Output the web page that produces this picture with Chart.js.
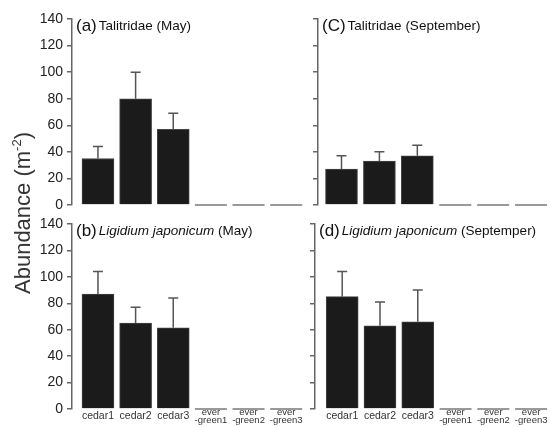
<!DOCTYPE html>
<html><head><meta charset="utf-8">
<script src="https://cdn.jsdelivr.net/npm/chart.js@4.4.1/dist/chart.umd.min.js"></script>
<style>
html,body{margin:0;padding:0;background:#fff;}
#wrap{position:relative;width:550px;height:427px;overflow:hidden;font-family:"Liberation Sans",Arial,sans-serif;}
canvas{position:absolute;}
#ytitle{position:absolute;left:23px;top:213px;transform:translate(-50%,-50%) rotate(-90deg);white-space:nowrap;font-size:22px;color:#333;}
#ytitle sup{font-size:13px;vertical-align:9px;line-height:0;}
</style></head><body>
<div id="wrap">
<canvas id="ca" style="left:0;top:0" width="305" height="218"></canvas>
<canvas id="cc" style="left:270px;top:0" width="280" height="218"></canvas>
<canvas id="cb" style="left:0;top:210px" width="305" height="217"></canvas>
<canvas id="cd" style="left:270px;top:210px" width="280" height="217"></canvas>
<div id="ytitle">Abundance (m<sup>-2</sup>)</div>
</div>
<script>
// ---- data ----
const categoryLabels = [['cedar1'], ['cedar2'], ['cedar3'], ['ever', '-green1'], ['ever', '-green2'], ['ever', '-green3']];
const yTickValues = [0, 20, 40, 60, 80, 100, 120, 140];

const talitridaeMay = [35, 80, 57, 0, 0, 0];
const talitridaeMaySE = [9, 20, 12, 0, 0, 0];
const talitridaeSep = [27, 33, 37, 0, 0, 0];
const talitridaeSepSE = [10, 7, 8, 0, 0, 0];
const ligidiumMay = [87, 65, 61.5, 0, 0, 0];
const ligidiumMaySE = [17, 12, 22.5, 0, 0, 0];
const ligidiumSep = [85, 63, 66, 0, 0, 0];
const ligidiumSepSE = [19, 18, 24, 0, 0, 0];

const FAMILY = '"Liberation Sans", Arial, sans-serif';
const AXIS_COLOR = '#666';

const whiskerPlugin = {
  id: 'whiskers',
  afterDatasetsDraw(chart) {
    const ctx = chart.ctx;
    const y = chart.scales.y;
    const ds = chart.data.datasets[0];
    const meta = chart.getDatasetMeta(0);
    ctx.save();
    meta.data.forEach((bar, i) => {
      const p = bar.getProps(['x', 'y', 'width'], true);
      const v = ds.data[i].y;
      const se = ds.se[i];
      if (v === 0) {
        const y0 = y.getPixelForValue(0);
        ctx.strokeStyle = '#777';
        ctx.lineWidth = 1.6;
        ctx.beginPath();
        ctx.moveTo(p.x - p.width / 2, y0);
        ctx.lineTo(p.x + p.width / 2, y0);
        ctx.stroke();
      } else if (se > 0) {
        const yt = y.getPixelForValue(v + se);
        ctx.strokeStyle = '#555';
        ctx.lineWidth = 1.5;
        ctx.beginPath();
        ctx.moveTo(p.x, p.y);
        ctx.lineTo(p.x, yt);
        ctx.moveTo(p.x - 5, yt);
        ctx.lineTo(p.x + 5, yt);
        ctx.stroke();
      }
    });
    ctx.restore();
  }
};

const titlePlugin = {
  id: 'panelTitle',
  afterDraw(chart, args, opts) {
    const ctx = chart.ctx;
    const area = chart.chartArea;
    let x = area.left + 4;
    const base = area.top + 11;
    ctx.save();
    ctx.fillStyle = '#111';
    ctx.textBaseline = 'alphabetic';
    ctx.textAlign = 'left';
    ctx.font = '17px ' + FAMILY;
    ctx.fillText(opts.label, x, base + 1);
    x += ctx.measureText(opts.label).width + 2;
    opts.parts.forEach(part => {
      ctx.font = (part.italic ? 'italic ' : '') + '13.5px ' + FAMILY;
      ctx.fillText(part.text, x, base);
      x += ctx.measureText(part.text).width;
    });
    ctx.restore();
  }
};

function makeChart(id, values, se, opts) {
  const ctx = document.getElementById(id);
  return new Chart(ctx, {
    type: 'bar',
    data: {
      datasets: [{
        data: values.map((v, i) => ({ x: i, y: v })),
        se: se,
        backgroundColor: '#1b1b1b',
        borderColor: '#444',
        borderWidth: 1,
        barThickness: 32
      }]
    },
    options: {
      responsive: false,
      animation: false,
      devicePixelRatio: 1,
      layout: { padding: { top: opts.padTop, bottom: opts.padBottom, left: 0, right: 0 } },
      plugins: {
        legend: { display: false },
        tooltip: { enabled: false },
        panelTitle: { label: opts.label, parts: opts.parts }
      },
      scales: {
        x: {
          type: 'linear',
          min: opts.xMin,
          max: 5.5,
          offset: false,
          display: opts.showX,
          grid: { display: false, drawTicks: false },
          border: { display: false },
          afterBuildTicks: s => { s.ticks = categoryLabels.map((_, i) => ({ value: i })); },
          afterFit: s => { s.height = opts.showX ? 18 : 0; },
          ticks: {
            autoSkip: false,
            maxRotation: 0,
            minRotation: 0,
            padding: 0,
            color: '#333',
            font: c => {
              const multi = categoryLabels[c.index] && categoryLabels[c.index].length > 1;
              return { family: FAMILY, size: multi ? 9.5 : 10.5, lineHeight: multi ? 0.77 : 1.35 };
            },
            callback: v => categoryLabels[Math.round(v)]
          }
        },
        y: {
          min: 0,
          max: 140,
          afterBuildTicks: s => { s.ticks = yTickValues.map(v => ({ value: v })); },
          afterFit: s => { s.width = opts.yWidth; },
          grid: { drawOnChartArea: false, drawTicks: true, tickLength: 5, color: AXIS_COLOR, lineWidth: 1.5 },
          border: { display: true, color: AXIS_COLOR, width: 1.5 },
          ticks: {
            display: opts.showYLabels,
            padding: 4,
            color: '#222',
            font: { family: FAMILY, size: 14 }
          }
        }
      }
    },
    plugins: [whiskerPlugin, titlePlugin]
  });
}

makeChart('ca', talitridaeMay, talitridaeMaySE, {
  padTop: 19, padBottom: 13, xMin: -0.69, showX: false, yWidth: 72, showYLabels: true,
  label: '(a)', parts: [{ text: 'Talitridae (May)' }]
});
makeChart('cc', talitridaeSep, talitridaeSepSE, {
  padTop: 19, padBottom: 13, xMin: -0.62, showX: false, yWidth: 48, showYLabels: false,
  label: '(C)', parts: [{ text: 'Talitridae (September)' }]
});
makeChart('cb', ligidiumMay, ligidiumMaySE, {
  padTop: 14, padBottom: 0, xMin: -0.69, showX: true, yWidth: 72, showYLabels: true,
  label: '(b)', parts: [{ text: 'Ligidium japonicum', italic: true }, { text: ' (May)' }]
});
makeChart('cd', ligidiumSep, ligidiumSepSE, {
  padTop: 14, padBottom: 0, xMin: -0.72, showX: true, yWidth: 45, showYLabels: false,
  label: '(d)', parts: [{ text: 'Ligidium japonicum', italic: true }, { text: ' (Septemper)' }]
});
</script>
</body></html>
